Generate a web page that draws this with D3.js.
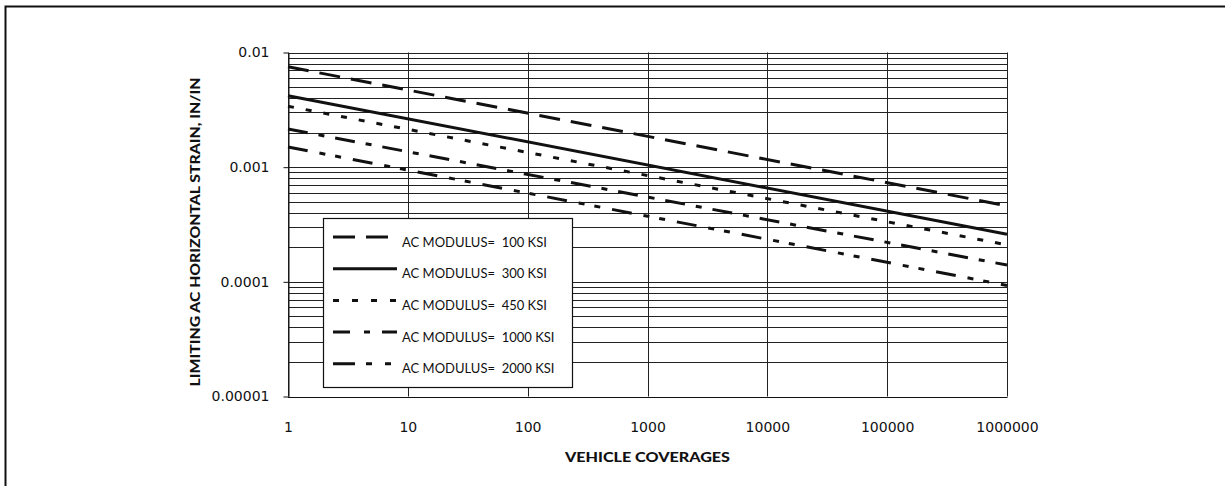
<!DOCTYPE html>
<meta charset="utf-8">
<title>Limiting AC horizontal strain</title>
<style>
    body { margin: 0; background: #fff; }
    text { font-family: "Lato", "Noto Sans", sans-serif; fill: #111; }
    .tick text { font-family: "DejaVu Sans", sans-serif; }
    .tick line { stroke: #111; }
    .domain { stroke: #111; }
</style>
<script src="https://d3js.org/d3.v7.js"></script>
<body>
<script>
    // axis ticks and labels
    const coverageTicks = [1, 10, 100, 1000, 10000, 100000, 1000000];
    const coverageLabels = ["1", "10", "100", "1000", "10000", "100000", "1000000"];
    const strainTicks = [0.01, 0.001, 0.0001, 0.00001];
    const strainLabels = ["0.01", "0.001", "0.0001", "0.00001"];

    // each curve is a straight line on log-log paper, so the two ends are enough
    const coverageEnds = [1, 1000000];
    const strain100 = [0.0075, 0.00046];
    const strain300 = [0.0042, 0.00026];
    const strain450 = [0.0034, 0.00021];
    const strain1000 = [0.00215, 0.00014];
    const strain2000 = [0.0015, 0.000093];
    const seriesNames = ["AC MODULUS=  100 KSI", "AC MODULUS=  300 KSI", "AC MODULUS=  450 KSI",
        "AC MODULUS=  1000 KSI", "AC MODULUS=  2000 KSI"];

    const dashes = ["21,11", null, "6,12", "20,11,6,11", "20,12,6,10,6,12"];
    const legendDashes = ["22,11", null, "6,13", "17,14,6,12", "22,11,6,13,6,13"];

    const series = [strain100, strain300, strain450, strain1000, strain2000].map((vals, i) => ({
        name: seriesNames[i],
        dash: dashes[i],
        legendDash: legendDashes[i],
        points: vals.map((v, j) => [coverageEnds[j], v])
    }));

    const W = 1225, H = 486;
    const plotLeft = 288, plotRight = 1007, plotTop = 52.5, plotBottom = 396.5;

    const svg = d3.select("body").append("svg")
        .attr("width", W)
        .attr("height", H);

    // outer frame (left and top only, like the scan)
    svg.append("path")
        .attr("d", `M5.5,${H} L5.5,6.5 L${W},6.5`)
        .attr("fill", "none")
        .attr("stroke", "#111")
        .attr("stroke-width", 2);

    const x = d3.scaleLog().domain([1, 1000000]).range([plotLeft, plotRight]);
    const y = d3.scaleLog().domain([0.00001, 0.01]).range([plotBottom, plotTop]);

    // horizontal grid, every 1..9 of each decade
    svg.append("g")
        .selectAll("line")
        .data(y.ticks())
        .join("line")
        .attr("x1", plotLeft)
        .attr("x2", plotRight)
        .attr("y1", d => Math.round(y(d)) + 0.5)
        .attr("y2", d => Math.round(y(d)) + 0.5)
        .attr("stroke", "#222")
        .attr("stroke-width", 1);

    // vertical grid at decades
    svg.append("g")
        .selectAll("line")
        .data(coverageTicks)
        .join("line")
        .attr("x1", d => Math.round(x(d)) + 0.5)
        .attr("x2", d => Math.round(x(d)) + 0.5)
        .attr("y1", plotTop)
        .attr("y2", plotBottom)
        .attr("stroke", "#222")
        .attr("stroke-width", 1);

    // y axis
    const yAxis = svg.append("g")
        .attr("transform", `translate(${plotLeft + 0.5},0)`)
        .call(d3.axisLeft(y)
            .tickValues(strainTicks)
            .tickFormat((d, i) => strainLabels[i])
            .tickSize(5)
            .tickPadding(14)
            .tickSizeOuter(0));
    yAxis.selectAll("text").style("font-size", "14px");

    // x axis
    const xAxis = svg.append("g")
        .attr("transform", `translate(0,${plotBottom + 0.5})`)
        .call(d3.axisBottom(x)
            .tickValues(coverageTicks)
            .tickFormat((d, i) => coverageLabels[i])
            .tickSize(0)
            .tickPadding(25)
            .tickSizeOuter(0));
    xAxis.selectAll("text").style("font-size", "14px");

    // axis titles
    svg.append("text")
        .attr("x", (plotLeft + plotRight) / 2)
        .attr("y", 462)
        .attr("text-anchor", "middle")
        .attr("textLength", 165)
        .attr("lengthAdjust", "spacingAndGlyphs")
        .style("font-size", "13px")
        .style("font-weight", "900")
        .text("VEHICLE COVERAGES");

    svg.append("text")
        .attr("transform", "translate(200,232) rotate(-90)")
        .attr("text-anchor", "middle")
        .attr("textLength", 309)
        .attr("lengthAdjust", "spacingAndGlyphs")
        .style("font-size", "13px")
        .style("font-weight", "900")
        .text("LIMITING AC HORIZONTAL STRAIN, IN/IN");

    // the curves
    const line = d3.line()
        .x(d => x(d[0]))
        .y(d => y(d[1]));

    svg.append("g")
        .selectAll("path")
        .data(series)
        .join("path")
        .attr("d", d => line(d.points))
        .attr("fill", "none")
        .attr("stroke", "#111")
        .attr("stroke-width", 3)
        .attr("stroke-dasharray", d => d.dash);

    // legend
    const legend = svg.append("g");
    legend.append("rect")
        .attr("x", 323.5)
        .attr("y", 218.5)
        .attr("width", 249)
        .attr("height", 169)
        .attr("fill", "#fff")
        .attr("stroke", "#111")
        .attr("stroke-width", 1.2);

    const rows = legend.selectAll("g.row")
        .data(series)
        .join("g")
        .attr("class", "row")
        .attr("transform", (d, i) => `translate(0,${242 + i * 31.7})`);

    rows.append("line")
        .attr("x1", 333)
        .attr("x2", 397)
        .attr("y1", -5)
        .attr("y2", -5)
        .attr("stroke", "#111")
        .attr("stroke-width", 3)
        .attr("stroke-dasharray", d => d.legendDash);

    rows.append("text")
        .attr("x", 402)
        .attr("y", 4.5)
        .style("font-size", "13px")
        .style("white-space", "pre")
        .text(d => d.name);
</script>
</body>
